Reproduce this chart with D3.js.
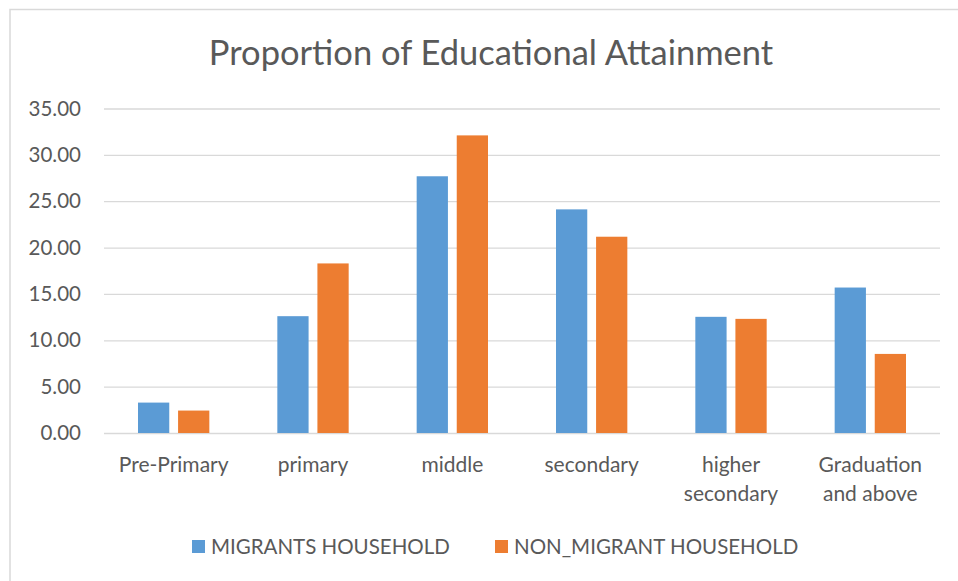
<!DOCTYPE html>
<html>
<head>
<meta charset="utf-8">
<script src="https://cdn.jsdelivr.net/npm/d3@7"></script>
<style>
  body { margin: 0; background: #fff; }
  svg text { font-family: Lato, "Open Sans", sans-serif; fill: #595959; }
</style>
</head>
<body>
<div id="chart"></div>
<script>
// data
var categories = ["Pre-Primary", "primary", "middle", "secondary", "higher secondary", "Graduation and above"];
var categoryLines = [["Pre-Primary"], ["primary"], ["middle"], ["secondary"], ["higher", "secondary"], ["Graduation", "and above"]];
var seriesNames = ["MIGRANTS HOUSEHOLD", "NON_MIGRANT HOUSEHOLD"];
var migrants = [3.28, 12.60, 27.69, 24.12, 12.53, 15.69];
var nonMigrants = [2.42, 18.29, 32.10, 21.17, 12.31, 8.53];
var yTicks = [0, 5, 10, 15, 20, 25, 30, 35];
var colors = ["#5B9BD5", "#ED7D31"];

var W = 958, H = 581;
var margin = {top: 108.5, right: 18, bottom: 148, left: 104};
var width = W - margin.left - margin.right,
    height = H - margin.top - margin.bottom;

var svg = d3.select("#chart").append("svg")
  .attr("width", W)
  .attr("height", H);

// outer chart border (only top and left visible in the picture)
svg.append("path")
  .attr("d", "M10,581 L10,9.5 L958,9.5")
  .attr("fill", "none")
  .attr("stroke", "#d9d9d9")
  .attr("stroke-width", 1.5);

svg.append("text")
  .attr("x", 491)
  .attr("y", 65)
  .attr("text-anchor", "middle")
  .style("font-size", "34.5px")
  .text("Proportion of Educational Attainment");

var g = svg.append("g")
  .attr("transform", "translate(" + margin.left + "," + margin.top + ")");

var y = d3.scaleLinear()
  .domain([0, 35])
  .range([height, 0]);

var x0 = d3.scaleBand()
  .domain(categories)
  .range([0, width])
  .paddingInner(0)
  .paddingOuter(0);

var x1 = d3.scaleBand()
  .domain(seriesNames)
  .range([34, x0.bandwidth() - 34])
  .paddingInner(0.22);

// gridlines
g.append("g")
  .selectAll("line")
  .data(yTicks)
  .enter().append("line")
  .attr("x1", 0)
  .attr("x2", width)
  .attr("y1", function(d) { return y(d) + 0.5; })
  .attr("y2", function(d) { return y(d) + 0.5; })
  .attr("stroke", "#d9d9d9")
  .attr("stroke-width", 1.3);

// y axis labels
var yAxis = g.append("g")
  .call(d3.axisLeft(y).tickValues(yTicks).tickSize(0).tickPadding(23).tickFormat(d3.format(".2f")));
yAxis.select(".domain").remove();
yAxis.selectAll("text")
  .style("font-size", "20.5px")
  .attr("fill", "#595959");

// bars
var groups = g.selectAll(".grp")
  .data(categories)
  .enter().append("g")
  .attr("class", "grp")
  .attr("transform", function(d) { return "translate(" + x0(d) + ",0)"; });

groups.selectAll("rect")
  .data(function(d, i) {
    return [
      {s: seriesNames[0], v: migrants[i], c: colors[0]},
      {s: seriesNames[1], v: nonMigrants[i], c: colors[1]}
    ];
  })
  .enter().append("rect")
  .attr("x", function(d) { return x1(d.s); })
  .attr("width", x1.bandwidth())
  .attr("y", function(d) { return y(d.v); })
  .attr("height", function(d) { return height - y(d.v); })
  .attr("fill", function(d) { return d.c; });

// category labels
var xl = g.append("g")
  .selectAll("text")
  .data(categories)
  .enter().append("text")
  .attr("text-anchor", "middle")
  .attr("x", function(d) { return x0(d) + x0.bandwidth() / 2; })
  .attr("y", height + 39)
  .style("font-size", "21px");
xl.each(function(d, i) {
  var t = d3.select(this);
  categoryLines[i].forEach(function(line, j) {
    t.append("tspan")
      .attr("x", x0(d) + x0.bandwidth() / 2)
      .attr("dy", j === 0 ? 0 : 29)
      .text(line);
  });
});

// legend
var legendX = [192, 495];
var legend = svg.selectAll(".leg")
  .data(seriesNames)
  .enter().append("g")
  .attr("class", "leg")
  .attr("transform", function(d, i) { return "translate(" + legendX[i] + ",540)"; });
legend.append("rect")
  .attr("width", 13)
  .attr("height", 13)
  .attr("fill", function(d, i) { return colors[i]; });
legend.append("text")
  .attr("x", 19)
  .attr("y", 14)
  .style("font-size", "20.5px")
  .text(function(d) { return d; });
</script>
</body>
</html>
